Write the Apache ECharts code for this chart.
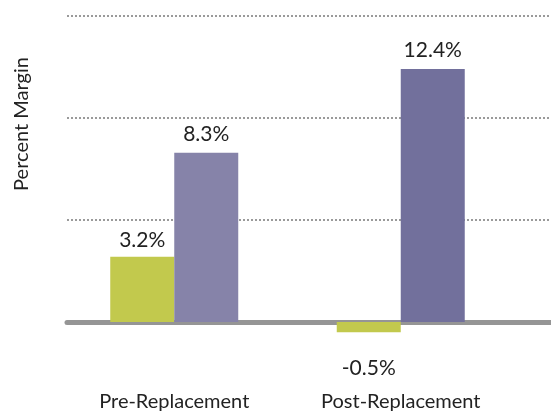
<!DOCTYPE html>
<html>
<head>
<meta charset="utf-8">
<script src="https://cdn.jsdelivr.net/npm/echarts@6/dist/echarts.min.js"></script>
<style>
  html, body { margin: 0; padding: 0; background: #fff; }
  #chart { width: 551px; height: 416px; }
</style>
</head>
<body>
<div id="chart"></div>
<script>
const categories = ['Pre-Replacement', 'Post-Replacement'];
const greenValues = [3.2, -0.5];
const purpleValues = [8.3, 12.4];
const purpleColors = ['#8683a9', '#72709c'];
const yTicks = { min: -5, max: 15, interval: 5 };

const FONT = 'Lato';

const chart = echarts.init(document.getElementById('chart'));

const pctLabel = (p) => p.value.toFixed(1) + '%';

chart.setOption({
    animation: false,
    grid: [
        // grid for gridlines + zero line
        {left: 67, width: 484, top: 16, height: 408, outerBoundsMode: 'none', containLabel: false},
        // grid for bars / category labels
        {left: 61, width: 453, top: 16, height: 408, outerBoundsMode: 'none', containLabel: false}
    ],
    graphic: [{
        type: 'text',
        x: 22,
        y: 124,
        rotation: Math.PI / 2,
        style: {
            text: 'Percent Margin',
            font: '20px ' + FONT,
            fill: '#222',
            textAlign: 'center',
            textVerticalAlign: 'middle'
        }
    }],
    xAxis: [{
        type: 'category',
        gridIndex: 0,
        data: categories,
        axisLine: {onZero: true, lineStyle: {color: '#959595', width: 5}},
        axisTick: {show: false},
        axisLabel: {show: false}
    }, {
        type: 'category',
        gridIndex: 1,
        data: categories,
        position: 'bottom',
        offset: -102,   // sit on the zero line (one 5% step above the -5 bottom)
        axisLine: {show: false, onZero: false},
        axisTick: {show: false},
        axisLabel: {
            margin: 70,
            fontFamily: FONT,
            fontSize: 20,
            color: '#222'
        }
    }],
    yAxis: [{
        type: 'value',
        gridIndex: 0,
        min: yTicks.min,
        max: yTicks.max,
        interval: yTicks.interval,
        axisLine: {show: false},
        axisTick: {show: false},
        axisLabel: {show: false},
        splitLine: {lineStyle: {type: [2, 2], color: '#9a9a9a', width: 2}}
    }, {
        type: 'value',
        gridIndex: 1,
        min: yTicks.min,
        max: yTicks.max,
        interval: yTicks.interval,
        axisLine: {show: false},
        axisTick: {show: false},
        axisLabel: {show: false},
        splitLine: {show: false}
    }],
    series: [{
        type: 'bar',
        xAxisIndex: 1,
        yAxisIndex: 1,
        barWidth: 64,
        barGap: '0%',
        itemStyle: {color: '#c2c94d'},
        data: greenValues.map(v => v < 0 ? {
            value: v,
            label: {position: 'bottom', distance: 26}
        } : v),
        label: {
            show: true,
            position: 'top',
            distance: 6,
            fontFamily: FONT,
            fontSize: 21,
            color: '#222',
            formatter: pctLabel
        },
        z: 1
    }, {
        type: 'bar',
        xAxisIndex: 1,
        yAxisIndex: 1,
        barWidth: 64,
        barGap: '0%',
        data: purpleValues.map((v, i) => ({value: v, itemStyle: {color: purpleColors[i]}})),
        label: {
            show: true,
            position: 'top',
            distance: 8,
            fontFamily: FONT,
            fontSize: 21,
            color: '#222',
            formatter: pctLabel
        },
        z: 1
    }]
});
</script>
</body>
</html>
